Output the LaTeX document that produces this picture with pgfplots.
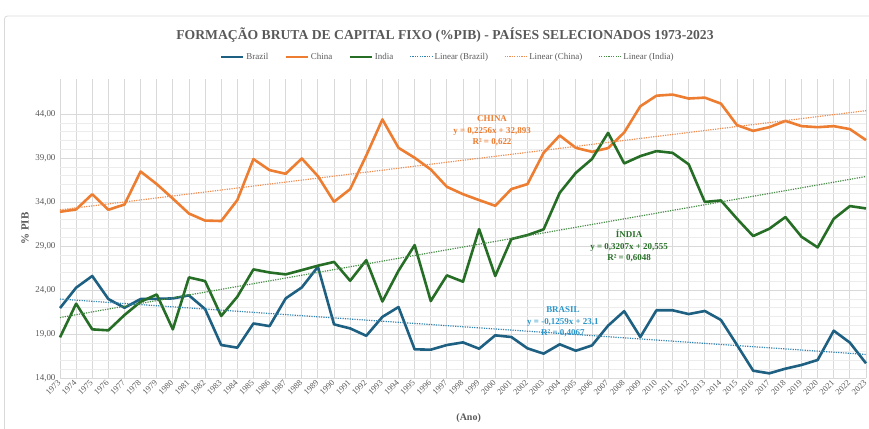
\documentclass[border=0pt]{standalone}
\usepackage{fontspec}
\setmainfont{Liberation Serif}
\usepackage{pgfplots}
\usepackage{pgfplotstable}
\pgfplotsset{compat=1.18}
\definecolor{cbr}{RGB}{30,96,130}
\definecolor{ccn}{RGB}{237,125,49}
\definecolor{cin}{RGB}{38,110,38}
\definecolor{cbrt}{RGB}{50,130,175}
\definecolor{ccnt}{RGB}{240,140,80}
\definecolor{cint}{RGB}{70,140,70}
\definecolor{ctxt}{RGB}{89,89,89}
\definecolor{cgrid}{RGB}{217,217,217}
\definecolor{cminor}{RGB}{236,236,236}
\definecolor{cbrtext}{RGB}{45,150,200}

\pgfplotstableread{
ano v
1973 21.95
1974 24.27
1975 25.6
1976 22.98
1977 21.99
1978 22.98
1979 23.0
1980 23.05
1981 23.4
1982 21.84
1983 17.75
1984 17.45
1985 20.2
1986 19.9
1987 23.05
1988 24.3
1989 26.65
1990 20.1
1991 19.64
1992 18.8
1993 20.95
1994 22.07
1995 17.26
1996 17.22
1997 17.75
1998 18.05
1999 17.33
2000 18.85
2001 18.66
2002 17.37
2003 16.77
2004 17.83
2005 17.1
2006 17.7
2007 19.95
2008 21.6
2009 18.66
2010 21.7
2011 21.7
2012 21.27
2013 21.62
2014 20.6
2015 17.75
2016 14.83
2017 14.53
2018 15.06
2019 15.48
2020 16.05
2021 19.38
2022 18.02
2023 15.67
}\brazil

\pgfplotstableread{
ano v
1973 32.9
1974 33.17
1975 34.9
1976 33.13
1977 33.73
1978 37.48
1979 36.05
1980 34.4
1981 32.7
1982 31.9
1983 31.85
1984 34.23
1985 38.89
1986 37.64
1987 37.22
1988 38.96
1989 36.95
1990 34.04
1991 35.48
1992 39.3
1993 43.4
1994 40.17
1995 39.04
1996 37.71
1997 35.74
1998 34.9
1999 34.23
2000 33.58
2001 35.48
2002 36.05
2003 39.6
2004 41.58
2005 40.17
2006 39.72
2007 40.14
2008 41.92
2009 44.9
2010 46.1
2011 46.23
2012 45.78
2013 45.88
2014 45.2
2015 42.75
2016 42.1
2017 42.52
2018 43.24
2019 42.64
2020 42.52
2021 42.64
2022 42.3
2023 41.05
}\china

\pgfplotstableread{
ano v
1973 18.62
1974 22.45
1975 19.53
1976 19.42
1977 21.16
1978 22.67
1979 23.5
1980 19.53
1981 25.44
1982 25.02
1983 21.05
1984 23.24
1985 26.35
1986 26.0
1987 25.78
1988 26.27
1989 26.77
1990 27.2
1991 25.06
1992 27.4
1993 22.7
1994 26.2
1995 29.11
1996 22.75
1997 25.67
1998 24.95
1999 30.93
2000 25.6
2001 29.8
2002 30.25
2003 30.9
2004 35.06
2005 37.33
2006 38.9
2007 41.88
2008 38.4
2009 39.23
2010 39.8
2011 39.6
2012 38.3
2013 34.02
2014 34.19
2015 32.1
2016 30.14
2017 30.97
2018 32.3
2019 30.06
2020 28.85
2021 32.1
2022 33.55
2023 33.28
}\india

\begin{document}
\begin{tikzpicture}
\useasboundingbox (0,0) rectangle (869bp,429bp);
\draw[cgrid, line width=0.8bp, rounded corners=3bp] (4.5bp,-5bp) rectangle (880bp,413bp);
\node[font=\bfseries\fontsize{13.7}{16}\selectfont, text=ctxt] at (445bp,394bp) {FORMAÇÃO BRUTA DE CAPITAL FIXO (\%PIB) - PAÍSES SELECIONADOS 1973-2023};
\begin{axis}[
  at={(60bp,51bp)}, anchor=south west,
  scale only axis, width=806bp, height=299bp,
  xmin=1973, xmax=2023, ymin=14, ymax=48,
  xtick={1973,...,2023}, ytick={14,19,...,44},
  minor x tick num=1, minor y tick num=4,
  grid=both,
  major grid style={cgrid, line width=0.8bp},
  minor grid style={cminor, line width=0.6bp},
  axis line style={draw=none},
  major tick length=0pt, minor tick length=0pt,
  xticklabel={\pgfmathprintnumber[fixed,precision=0,1000 sep={},assume math mode=true]{\tick}},
  yticklabel={\pgfmathprintnumber[fixed,fixed zerofill,precision=2,use comma,assume math mode=true]{\tick}},
  xticklabel shift=3bp,
  xticklabel style={rotate=45, anchor=east, font=\fontsize{8.5}{10}\selectfont, text=ctxt, inner sep=1pt},
  yticklabel style={font=\fontsize{9}{10}\selectfont, text=ctxt, xshift=-1bp},
  ylabel={\% PIB}, xlabel={(Ano)},
  ylabel style={font=\bfseries\fontsize{11}{12}\selectfont, text=ctxt, at={(axis description cs:-0.0434,0.5)}, anchor=center},
  xlabel style={font=\bfseries\fontsize{10}{12}\selectfont, text=ctxt, at={(axis description cs:0.507,-0.134)}, anchor=center},
  legend columns=6,
  legend style={at={(axis description cs:0.481,1.074)}, anchor=center, draw=none, fill=none,
    font=\fontsize{9}{10}\selectfont, text=ctxt,
    /tikz/every even column/.append style={column sep=14bp}},
  legend image code/.code={\draw[#1] (0bp,0bp) -- (22bp,0bp);},
  clip=false,
]
\addplot[cbr, line width=2.6bp, line join=round] table[x=ano,y=v] {\brazil};
\addlegendentry{Brazil}
\addplot[ccn, line width=2.6bp, line join=round] table[x=ano,y=v] {\china};
\addlegendentry{China}
\addplot[cin, line width=2.6bp, line join=round] table[x=ano,y=v] {\india};
\addlegendentry{India}
\addplot[cbrt, line width=1.2bp, dash pattern=on 1.2bp off 1.2bp] coordinates {(1973,22.974) (2023,16.679)};
\addlegendentry{Linear (Brazil)}
\addplot[ccnt, line width=1.2bp, dash pattern=on 1.2bp off 1.2bp] coordinates {(1973,33.119) (2023,44.399)};
\addlegendentry{Linear (China)}
\addplot[cint, line width=1.2bp, dash pattern=on 1.2bp off 1.2bp] coordinates {(1973,20.876) (2023,36.911)};
\addlegendentry{Linear (India)}

\node[align=center, font=\bfseries\fontsize{9}{11.5}\selectfont, text=ccn] at (axis cs:1999.8,42.07) {CHINA\\y = 0,2256x + 32,893\\R² = 0,622};
\node[align=center, font=\bfseries\fontsize{9}{11.5}\selectfont, text=cin] at (axis cs:2008.3,29.0) {ÍNDIA\\y = 0,3207x + 20,555\\R² = 0,6048};
\node[align=center, font=\bfseries\fontsize{9}{11.5}\selectfont, text=cbrtext] at (axis cs:2004.2,20.36) {BRASIL\\y = -0,1259x + 23,1\\R² = 0,4067};
\end{axis}
\end{tikzpicture}
\end{document}
